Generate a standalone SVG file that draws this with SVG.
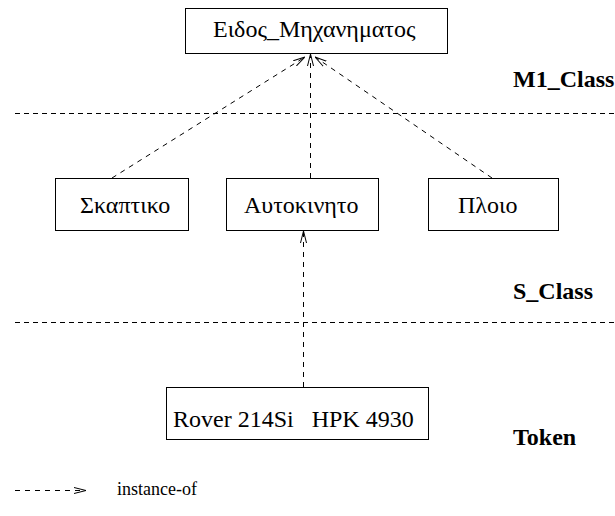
<svg xmlns="http://www.w3.org/2000/svg" width="615" height="516" viewBox="0 0 615 516">
  <style>
    .box { fill: #ffffff; stroke: #000000; stroke-width: 1; }
    .sep { stroke: #000000; stroke-width: 1; stroke-dasharray: 5 4; fill: none; }
    .inst { stroke: #000000; stroke-width: 1; stroke-dasharray: 5 5; fill: none; marker-end: url(#open); }
  </style>
  <defs>
    <marker id="open" viewBox="0 0 12 8" refX="12" refY="4" markerWidth="12" markerHeight="8" markerUnits="userSpaceOnUse" orient="auto">
      <path d="M0,1 L12,4 L0,7" fill="none" stroke="#000000" stroke-width="1" stroke-dasharray="none"/>
    </marker>
  </defs>

  <rect width="615" height="516" fill="#ffffff"/>

  <!-- level separators -->
  <line class="sep" x1="15" y1="113.5" x2="615" y2="113.5"/>
  <line class="sep" x1="15" y1="322.5" x2="615" y2="322.5"/>

  <!-- level labels -->
  <g font-family="Liberation Serif" font-size="24" font-weight="bold" fill="#000000">
    <text x="513" y="87">M1_Class</text>
    <text x="513" y="299">S_Class</text>
    <text x="513" y="445">Token</text>
  </g>

  <!-- instance-of connectors -->
  <g id="connectors">
    <line class="inst" x1="112" y1="178" x2="305" y2="57"/>
    <line class="inst" x1="310.5" y1="178" x2="310.5" y2="54"/>
    <line class="inst" x1="492" y1="178" x2="315" y2="57"/>
    <line class="inst" x1="303.5" y1="387" x2="303.5" y2="231"/>
  </g>

  <g id="eidos">
    <rect class="box" x="185.5" y="8.5" width="262" height="45"/>
    <text x="213" y="37" font-size="24"><tspan font-family="Liberation Serif" style="font-family:'Liberation Serif',serif">Ειδος_Μηχανηματος</tspan></text>
  </g>

  <g id="skaptiko">
    <rect class="box" x="55.5" y="178.5" width="133" height="52"/>
    <text x="80" y="213" font-size="24"><tspan font-family="Liberation Serif" style="font-family:'Liberation Serif',serif">Σκαπτικο</tspan></text>
  </g>

  <g id="aftokinito">
    <rect class="box" x="226.5" y="178.5" width="152" height="52"/>
    <text x="244" y="213" font-size="24"><tspan font-family="Liberation Serif" style="font-family:'Liberation Serif',serif">Αυτοκινητο</tspan></text>
  </g>

  <g id="ploio">
    <rect class="box" x="428.5" y="178.5" width="130" height="52"/>
    <text x="458" y="213" font-size="24"><tspan font-family="Liberation Serif" style="font-family:'Liberation Serif',serif">Πλοιο</tspan></text>
  </g>

  <g id="token">
    <rect class="box" x="166.5" y="387.5" width="262" height="52"/>
    <text x="173" y="427" font-size="24" xml:space="preserve"><tspan font-family="Liberation Serif" style="font-family:'Liberation Serif',serif">Rover 214Si   HPK 4930</tspan></text>
  </g>

  <!-- legend -->
  <line class="inst" x1="15" y1="490.5" x2="86" y2="490.5"/>
  <text x="117" y="495" font-family="Liberation Serif" font-size="18">instance-of</text>
</svg>
